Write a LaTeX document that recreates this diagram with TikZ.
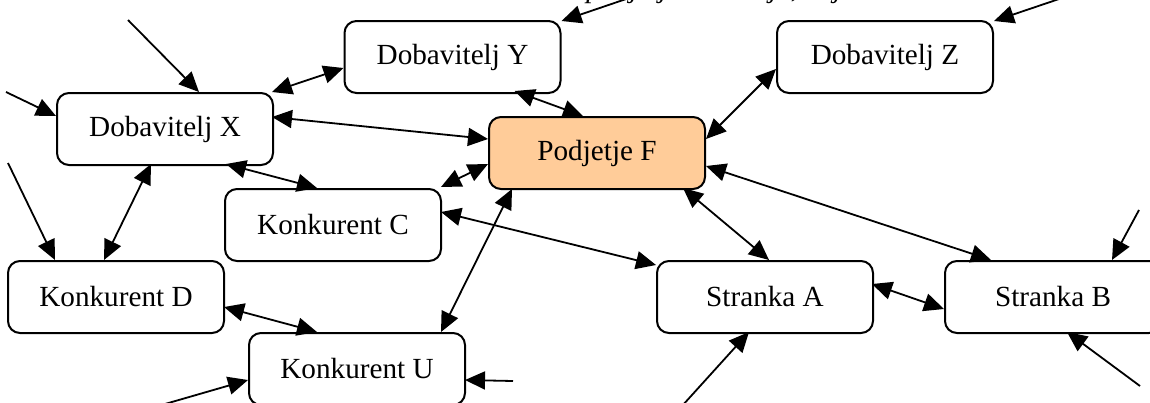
\documentclass[tikz,border=0pt]{standalone}
\usepackage{fontspec}
\setmainfont{Liberation Serif}
\usetikzlibrary{arrows.meta}
\definecolor{peach}{HTML}{FFCC99}
\begin{document}
\begin{tikzpicture}[x=0.5pt,y=-0.5pt,
  entity/.style={draw,line width=1pt,rounded corners=6pt,minimum width=108pt,
    minimum height=36pt,inner sep=0pt,font=\fontsize{14.6}{17}\selectfont,fill=white},
  firm/.style={entity,fill=peach},
  link/.style={line width=0.9pt,{Triangle[length=10pt,width=9pt]}-{Triangle[length=10pt,width=9pt]}},
  feed/.style={line width=0.9pt,-{Triangle[length=10pt,width=9pt]}}]
\useasboundingbox (0,0) rectangle (1150,402);
\clip (0,0) rectangle (1150,402);

% heading line, mostly above the visible area
\node[anchor=base west,inner sep=0pt,font=\fontsize{14.6}{17}\selectfont\itshape] (heading) at (586,-3) {podjetja in okolje, ki jih};

% actors
\node[entity] (X) at (165,129) {Dobavitelj X};
\node[entity] (Y) at (452.5,57) {Dobavitelj Y};
\node[firm]   (F) at (597,153) {Podjetje F};
\node[entity] (Z) at (885,57) {Dobavitelj Z};
\node[entity] (C) at (333,225) {Konkurent C};
\node[entity] (D) at (116,297) {Konkurent D};
\node[entity] (U) at (357,369) {Konkurent U};
\node[entity] (A) at (765,297) {Stranka A};
\node[entity] (B) at (1053,297) {Stranka B};

% loose ends of incoming influences
\coordinate (inX1) at (128,20);
\coordinate (inX2) at (6,92);
\coordinate (inD)  at (8,163);
\coordinate (inY)  at (632,-3);
\coordinate (inZ)  at (1062,-2);
\coordinate (inU1) at (158,406);
\coordinate (inU2) at (513,381);
\coordinate (inA)  at (682,406);
\coordinate (inB1) at (1140,386);
\coordinate (inB2) at (1139,210);

% incoming influences
\draw[feed] (inX1) -- ([shift={(143,0)}]X.north west);
\draw[feed] (inX2) -- ([shift={(0,24)}]X.north west);
\draw[feed] (inD)  -- ([shift={(48,0)}]D.north west);
\draw[feed] (inY)  -- ([shift={(218,1)}]Y.north west);
\draw[feed] (inZ)  -- ([shift={(218,1)}]Z.north west);
\draw[feed] (inU1) -- ([shift={(0,48)}]U.north west);
\draw[feed] (inU2) -- ([shift={(217,48)}]U.north west);
\draw[feed] (inA)  -- ([shift={(93,72)}]A.north west);
\draw[feed] (inB1) -- ([shift={(123,72)}]B.north west);
\draw[feed] (inB2) -- ([shift={(168,0)}]B.north west);

% mutual relations
\draw[link] ([shift={(216,0)}]X.north west) -- ([shift={(0,48)}]Y.north west);
\draw[link] ([shift={(216,25)}]X.north west) -- ([shift={(0,23)}]F.north west);
\draw[link] ([shift={(170,72)}]X.north west) -- ([shift={(93,0)}]C.north west);
\draw[link] ([shift={(171,71)}]Y.north west) -- ([shift={(95,0)}]F.north west);
\draw[link] ([shift={(218,23)}]F.north west) -- ([shift={(0,49)}]Z.north west);
\draw[link] ([shift={(0,48)}]F.north west) -- ([shift={(217,-1)}]C.north west);
\draw[link] ([shift={(24,73)}]F.north west) -- ([shift={(193,0)}]U.north west);
\draw[link] ([shift={(195,72)}]F.north west) -- ([shift={(113,0)}]A.north west);
\draw[link] ([shift={(218,50)}]F.north west) -- ([shift={(47,0)}]B.north west);
\draw[link] ([shift={(217,24)}]C.north west) -- ([shift={(0,5)}]A.north west);
\draw[link] ([shift={(95,72)}]X.north west) -- ([shift={(97,0)}]D.north west);
\draw[link] ([shift={(217,47)}]D.north west) -- ([shift={(69,0)}]U.north west);
\draw[link] ([shift={(216,24)}]A.north west) -- ([shift={(0,49)}]B.north west);
\end{tikzpicture}
\end{document}
